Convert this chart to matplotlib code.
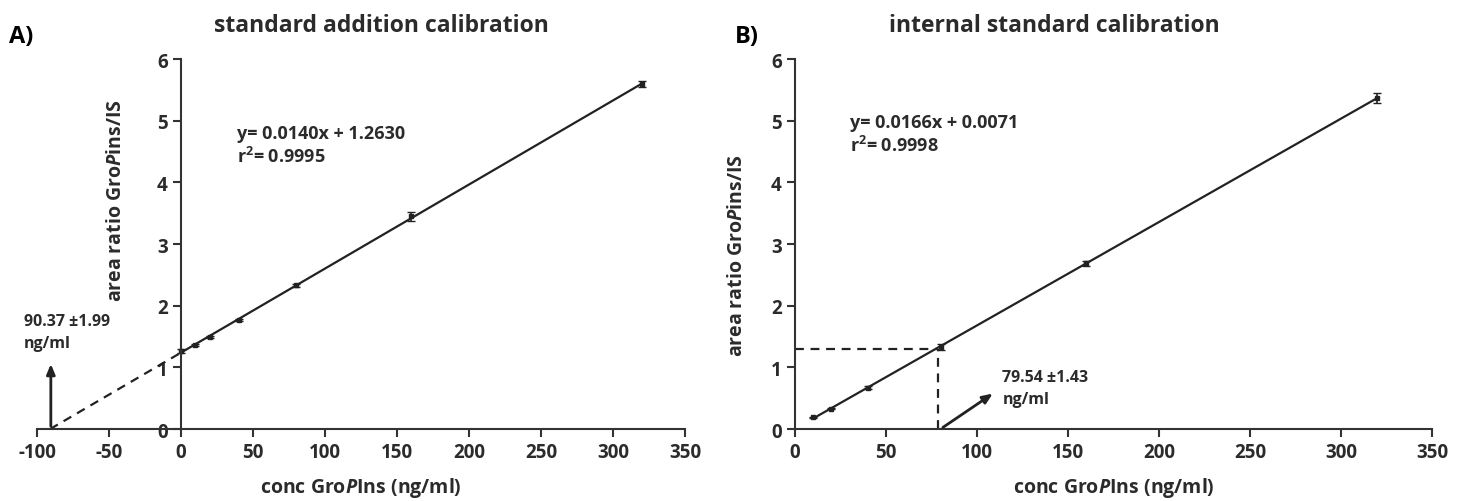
import numpy as np
import matplotlib
matplotlib.use("Agg")
import matplotlib.pyplot as plt

plt.rcParams['font.family'] = ['Open Sans', 'DejaVu Sans']
plt.rcParams['font.weight'] = 'bold'
plt.rcParams['axes.labelweight'] = 'bold'
plt.rcParams['axes.titleweight'] = 'bold'
plt.rcParams['axes.unicode_minus'] = False
plt.rcParams['mathtext.fontset'] = 'custom'
plt.rcParams['mathtext.it'] = 'Open Sans:italic:bold'
plt.rcParams['mathtext.rm'] = 'Open Sans:bold'
plt.rcParams['mathtext.bf'] = 'Open Sans:bold'

TXT = '#2b2b2b'

# A) standard addition
conc_a = [0, 10, 20, 40, 80, 160, 320]
ratio_a = [1.27, 1.36, 1.49, 1.77, 2.33, 3.45, 5.59]
err_a = [0.03, 0.02, 0.02, 0.02, 0.02, 0.07, 0.05]
found_a = -90.37

# B) internal standard
conc_b = [10, 20, 40, 80, 160, 320]
ratio_b = [0.19, 0.33, 0.67, 1.33, 2.69, 5.37]
err_b = [0.01, 0.01, 0.02, 0.05, 0.04, 0.08]
found_b = 78.5
found_b_y = 1.30

xticks_a = [-100, -50, 0, 50, 100, 150, 200, 250, 300, 350]
xticks_b = [0, 50, 100, 150, 200, 250, 300, 350]
yticks = [0, 1, 2, 3, 4, 5, 6]

fig = plt.figure(figsize=(14.61, 5.02), dpi=100)
ax1 = fig.add_axes([0.0253, 0.1434, 0.4436, 0.737])
ax2 = fig.add_axes([0.5441, 0.1434, 0.4360, 0.737])


def style(ax, xticks):
    ax.set_ylim(0, 6)
    ax.set_xlim(xticks[0], xticks[-1])
    ax.set_xticks(xticks)
    ax.set_yticks(yticks)
    for s in ['top', 'right']:
        ax.spines[s].set_visible(False)
    ax.spines['left'].set_position(('data', 0))
    for s in ['left', 'bottom']:
        ax.spines[s].set_color('#333333')
        ax.spines[s].set_linewidth(1.5)
    ax.tick_params(direction='out', length=6, width=1.5, color='#333333',
                   labelsize=13.5, labelcolor=TXT)
    ax.set_xlabel(r'conc Gro$\mathit{P}$Ins (ng/ml)', fontsize=14,
                  color=TXT, labelpad=9)


style(ax1, xticks_a)
style(ax2, xticks_b)

# panel A
k, b = np.polyfit(conc_a, ratio_a, 1)
xs = np.array([0, conc_a[-1]])
ax1.plot(xs, k * xs + b, color='#222222', lw=1.6)
xz = -b / k
ax1.plot([xz, 0], [0, b], color='#222222', lw=1.6, ls=(0, (4, 3)))
ax1.errorbar(conc_a, ratio_a, yerr=err_a, fmt='s', ms=2.5, color='#222222',
             capsize=3, elinewidth=1.2)
ax1.annotate('', xy=(found_a, 1.1), xytext=(found_a, 0),
             arrowprops=dict(arrowstyle='-|>,head_width=0.25,head_length=0.6',
                             color='#222222', lw=2))
ax1.text(-109, 1.58, '%.2f \u00b11.99\nng/ml' % -found_a, fontsize=11.5,
         color=TXT, va='center', ha='left', linespacing=1.5)
ax1.text(39, 4.6, 'y= 0.0140x + 1.2630\nr$^2$= 0.9995', fontsize=13,
         color=TXT, va='center', ha='left', linespacing=1.25)
ax1.set_ylabel(r'area ratio Gro$\mathit{P}$ins/IS', fontsize=14, color=TXT)
ax1.yaxis.set_label_coords(0.138, 0.62)
ax1.set_title('standard addition calibration', fontsize=16.5, color=TXT,
              pad=20, x=0.531)
fig.text(0.006, 0.915, 'A)', fontsize=17, color='black')

# panel B
k2, b2 = np.polyfit(conc_b, ratio_b, 1)
xs2 = np.array([conc_b[0], conc_b[-1]])
ax2.plot(xs2, k2 * xs2 + b2, color='#222222', lw=1.6)
ax2.errorbar(conc_b, ratio_b, yerr=err_b, fmt='s', ms=2.5, color='#222222',
             capsize=3, elinewidth=1.2)
ax2.plot([0, found_b], [found_b_y, found_b_y], color='#222222', lw=1.6,
         ls=(0, (4, 3)))
ax2.plot([found_b, found_b], [0, found_b_y], color='#222222', lw=1.6,
         ls=(0, (4, 3)))
ax2.annotate('', xy=(110, 0.6), xytext=(80, 0),
             arrowprops=dict(arrowstyle='-|>,head_width=0.25,head_length=0.6',
                             color='#222222', lw=2))
ax2.text(114, 0.66, '79.54 \u00b11.43\nng/ml', fontsize=11.5, color=TXT,
         va='center', ha='left', linespacing=1.5)
ax2.text(30, 4.78, 'y= 0.0166x + 0.0071\nr$^2$= 0.9998', fontsize=13,
         color=TXT, va='center', ha='left', linespacing=1.25)
ax2.set_ylabel(r'area ratio Gro$\mathit{P}$ins/IS', fontsize=14, color=TXT)
ax2.yaxis.set_label_coords(-0.075, 0.47)
ax2.set_title('internal standard calibration', fontsize=16.5, color=TXT,
              pad=20, x=0.407)
fig.text(0.503, 0.915, 'B)', fontsize=17, color='black')

fig.savefig('out.png', dpi=100)
